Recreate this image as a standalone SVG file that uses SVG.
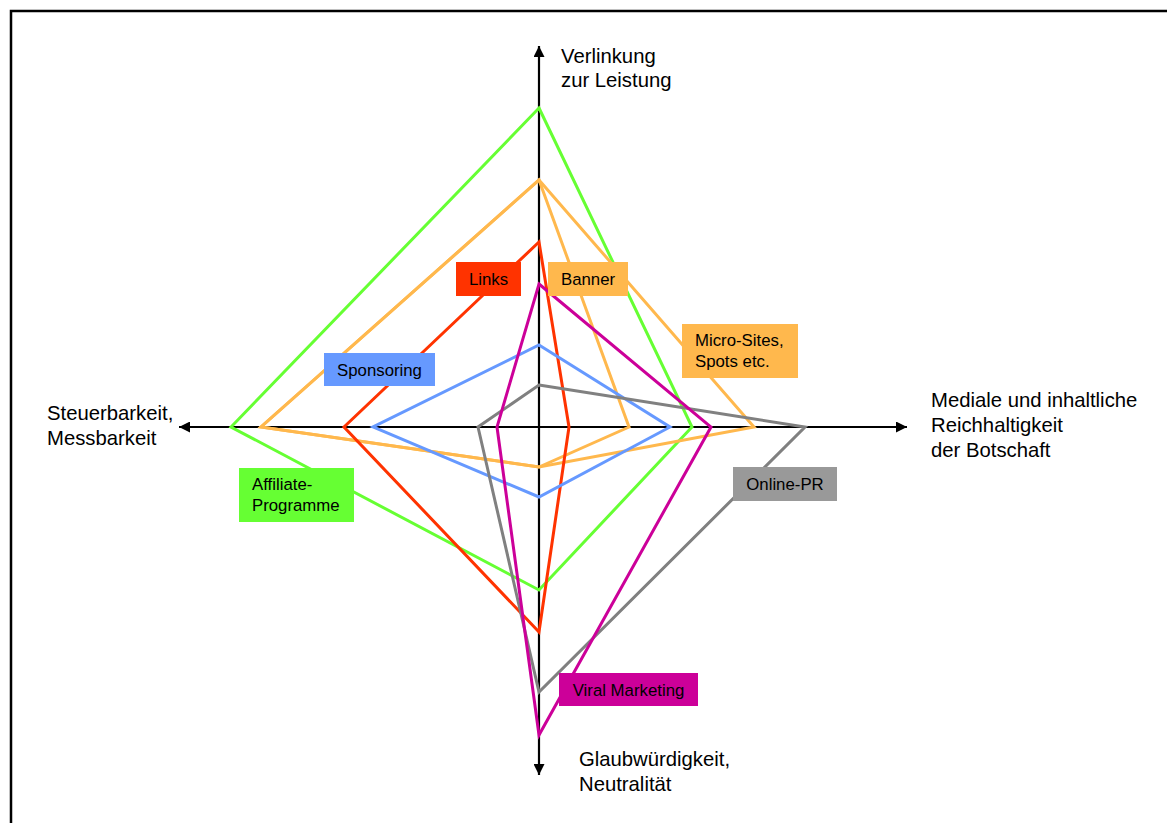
<svg xmlns="http://www.w3.org/2000/svg" width="1167" height="823" viewBox="0 0 1167 823">
<style>
text{font-family:"Liberation Sans",Arial,sans-serif;fill:#000}
.ax{font-size:20.3px}
.lb{font-size:16.8px}
.poly{fill:none;stroke-width:3;stroke-linejoin:miter}
.axis{stroke:#000;stroke-width:2.2;fill:none}
</style>
<defs>
<marker id="ah" viewBox="0 0 10 10" refX="10" refY="5" markerWidth="11" markerHeight="11" markerUnits="userSpaceOnUse" orient="auto">
<path d="M0,0 L10,5 L0,10 Z" fill="#000"/>
</marker>
</defs>
<rect x="0" y="0" width="1167" height="823" fill="#fff"/>
<rect x="11" y="11" width="1170" height="830" fill="none" stroke="#000" stroke-width="2.5"/>
<g id="connectors">
<line class="axis" x1="539" y1="427" x2="539" y2="46" marker-end="url(#ah)"/>
<line class="axis" x1="539" y1="427" x2="539" y2="775" marker-end="url(#ah)"/>
<line class="axis" x1="539" y1="427" x2="179" y2="427" marker-end="url(#ah)"/>
<line class="axis" x1="539" y1="427" x2="907" y2="427" marker-end="url(#ah)"/>
<polygon class="poly" stroke="#66FF33" points="539,108 692,427 539,590 231,427"/>
<polygon class="poly" stroke="#FFB84D" points="539,180 754,427 539,467 261,427"/>
<polygon class="poly" stroke="#FFB84D" points="539,180 629,427 539,467 261,427"/>
<polygon class="poly" stroke="#FF3300" points="539,242 569,427 539,632 344,427"/>
<polygon class="poly" stroke="#6699FF" points="539,345 670,427 539,497 373,427"/>
<polygon class="poly" stroke="#808080" points="539,385 805,427 539,692 478,427"/>
<polygon class="poly" stroke="#CC0099" points="539,284 711,427 539,735 497,427"/>
</g>
<g id="axis-top"><text class="ax" x="561" y="63">Verlinkung</text><text class="ax" x="561" y="87">zur Leistung</text></g>
<g id="axis-left"><text class="ax" x="47" y="420">Steuerbarkeit,</text><text class="ax" x="47" y="445">Messbarkeit</text></g>
<g id="axis-right"><text class="ax" x="931" y="407">Mediale und inhaltliche</text><text class="ax" x="931" y="432">Reichhaltigkeit</text><text class="ax" x="931" y="457">der Botschaft</text></g>
<g id="axis-bottom"><text class="ax" x="579" y="766">Glaubwürdigkeit,</text><text class="ax" x="579" y="791">Neutralität</text></g>
<g id="links"><rect x="456" y="262" width="65" height="34" fill="#FF3300"/><text class="lb" x="488.5" y="285" text-anchor="middle">Links</text></g>
<g id="banner"><rect x="548" y="262" width="80" height="34" fill="#FFB84D"/><text class="lb" x="588" y="285" text-anchor="middle">Banner</text></g>
<g id="microsites"><rect x="682" y="324" width="116" height="54" fill="#FFB84D"/><text class="lb" x="695" y="346">Micro-Sites,</text><text class="lb" x="695" y="367">Spots etc.</text></g>
<g id="sponsoring"><rect x="324" y="353" width="111" height="33" fill="#6699FF"/><text class="lb" x="379.5" y="376" text-anchor="middle">Sponsoring</text></g>
<g id="affiliate"><rect x="239" y="468" width="115" height="54" fill="#66FF33"/><text class="lb" x="252" y="490">Affiliate-</text><text class="lb" x="252" y="511">Programme</text></g>
<g id="onlinepr"><rect x="733" y="467" width="104" height="34" fill="#999999"/><text class="lb" x="785" y="490" text-anchor="middle">Online-PR</text></g>
<g id="viral"><rect x="559" y="673" width="139" height="33" fill="#CC0099"/><text class="lb" x="628.5" y="696" text-anchor="middle">Viral Marketing</text></g>
</svg>
